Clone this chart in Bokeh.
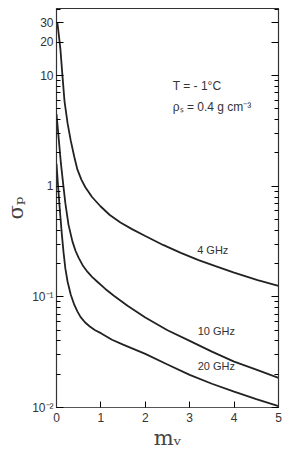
from bokeh.plotting import figure
from bokeh.models import LogAxis, FixedTicker, Label, Range1d
from bokeh.embed import file_html
from bokeh.resources import INLINE

# Curve data (m_v, sigma_p)
x_4ghz = [0.02, 0.06, 0.09, 0.13, 0.18, 0.25, 0.32, 0.4, 0.47, 0.56, 0.65, 0.8, 0.99, 1.2, 1.44, 1.7,
          2.0, 2.4, 2.8, 3.2, 3.58, 4.0, 4.53, 5.0]
y_4ghz = [30, 22, 17, 10.5, 5.9, 3.7, 2.6, 1.85, 1.42, 1.15, 0.98, 0.8, 0.66, 0.55, 0.47, 0.41,
          0.355, 0.295, 0.25, 0.215, 0.19, 0.166, 0.142, 0.126]

x_10ghz = [0.0, 0.05, 0.1, 0.15, 0.2, 0.27, 0.36, 0.43, 0.5, 0.6, 0.7, 0.8, 0.92, 1.1, 1.3, 1.6,
           2.0, 2.5, 3.0, 3.5, 4.0, 4.5, 5.0]
y_10ghz = [4.5, 2.7, 1.6, 1.05, 0.7, 0.45, 0.316, 0.26, 0.225, 0.19, 0.168, 0.152, 0.137, 0.118, 0.102, 0.083,
           0.065, 0.05, 0.04, 0.032, 0.026, 0.022, 0.0185]

x_20ghz = [0.0, 0.04, 0.08, 0.12, 0.16, 0.2, 0.25, 0.32, 0.4, 0.47, 0.54, 0.64, 0.75, 0.87, 1.0, 1.25,
           1.5, 2.0, 2.5, 3.0, 3.5, 4.0, 4.5, 5.0]
y_20ghz = [1.6, 0.95, 0.58, 0.37, 0.25, 0.18, 0.137, 0.105, 0.085, 0.074, 0.066, 0.059, 0.054, 0.05, 0.047, 0.041,
           0.037, 0.0305, 0.0245, 0.0197, 0.0164, 0.0139, 0.0119, 0.0103]

curve_names = ["4 GHz", "10 GHz", "20 GHz"]
label_x = [3.52, 3.6, 3.6]
label_y = [0.235, 0.043, 0.021]

y_ticks = [0.01, 0.1, 1, 10, 20, 30]
y_tick_labels = ["10⁻²", "10⁻¹", "1", "10", "20", "30"]
x_ticks = [0, 1, 2, 3, 4, 5]

minor = []
for dec in [0.01, 0.1, 1, 10]:
    for k in range(2, 10):
        v = k * dec
        if v <= 40 and v not in (20, 30):
            minor.append(v)

p = figure(width=289, height=455, x_range=Range1d(0, 5), y_range=Range1d(0.01, 40.5),
           y_axis_type="log", output_backend="svg", toolbar_location=None,
           min_border_left=56, min_border_right=11, min_border_top=8, min_border_bottom=48)
p.background_fill_color = "white"
p.border_fill_color = "white"
p.outline_line_color = "#333333"
p.outline_line_width = 1.2
p.xgrid.visible = False
p.ygrid.visible = False

for xs, ys in [(x_4ghz, y_4ghz), (x_10ghz, y_10ghz), (x_20ghz, y_20ghz)]:
    p.line(xs, ys, line_color="#222222", line_width=1.8)

# axes
xa = p.xaxis[0]
xa.ticker = FixedTicker(ticks=x_ticks)
xa.major_tick_in = 6
xa.major_tick_out = 0
xa.minor_tick_line_color = None
xa.axis_line_color = "#555555"
xa.major_label_text_font = "Liberation Sans"
xa.major_label_text_font_size = "12px"
xa.major_label_text_color = "#333333"
xa.major_label_standoff = 5
xa.axis_label = "mᵥ"
xa.axis_label_text_font = "DejaVu Serif"
xa.axis_label_text_font_style = "normal"
xa.axis_label_text_font_size = "21px"
xa.axis_label_standoff = 1

ya = p.yaxis[0]
ya.ticker = FixedTicker(ticks=y_ticks, minor_ticks=minor)
ya.major_label_overrides = {t: l for t, l in zip(y_ticks, y_tick_labels)}
ya.major_tick_in = 7
ya.major_tick_out = 0
ya.minor_tick_in = 4
ya.minor_tick_out = 0
ya.axis_line_color = "#333333"
ya.major_label_text_font = "Liberation Sans"
ya.major_label_text_font_size = "12px"
ya.major_label_text_color = "#333333"
ya.major_label_standoff = 3
ya.axis_label = "σₚ"
ya.axis_label_text_font = "DejaVu Serif"
ya.axis_label_text_font_style = "normal"
ya.axis_label_text_font_size = "21px"
ya.axis_label_standoff = 1

ra = LogAxis(ticker=FixedTicker(ticks=y_ticks, minor_ticks=minor))
ra.major_label_text_font_size = "0px"
ra.major_label_text_color = None
ra.major_label_standoff = 0
ra.major_tick_in = 7
ra.major_tick_out = 0
ra.minor_tick_in = 4
ra.minor_tick_out = 0
ra.axis_line_color = "#333333"
p.add_layout(ra, "right")

for name, lx, ly in zip(curve_names, label_x, label_y):
    p.add_layout(Label(x=lx, y=ly, text=name, text_font="Liberation Sans",
                       text_font_size="11px", text_color="#333333",
                       text_align="center", text_baseline="bottom"))

p.add_layout(Label(x=2.62, y=8.0, text="T = - 1°C", text_font="Liberation Sans",
                   text_font_size="12px", text_color="#333333", text_baseline="middle"))
p.add_layout(Label(x=2.62, y=5.2, text="ρₛ = 0.4 g cm⁻³", text_font="Liberation Sans",
                   text_font_size="12px", text_color="#333333", text_baseline="middle"))

open("out.html", "w").write(file_html(p, INLINE))
